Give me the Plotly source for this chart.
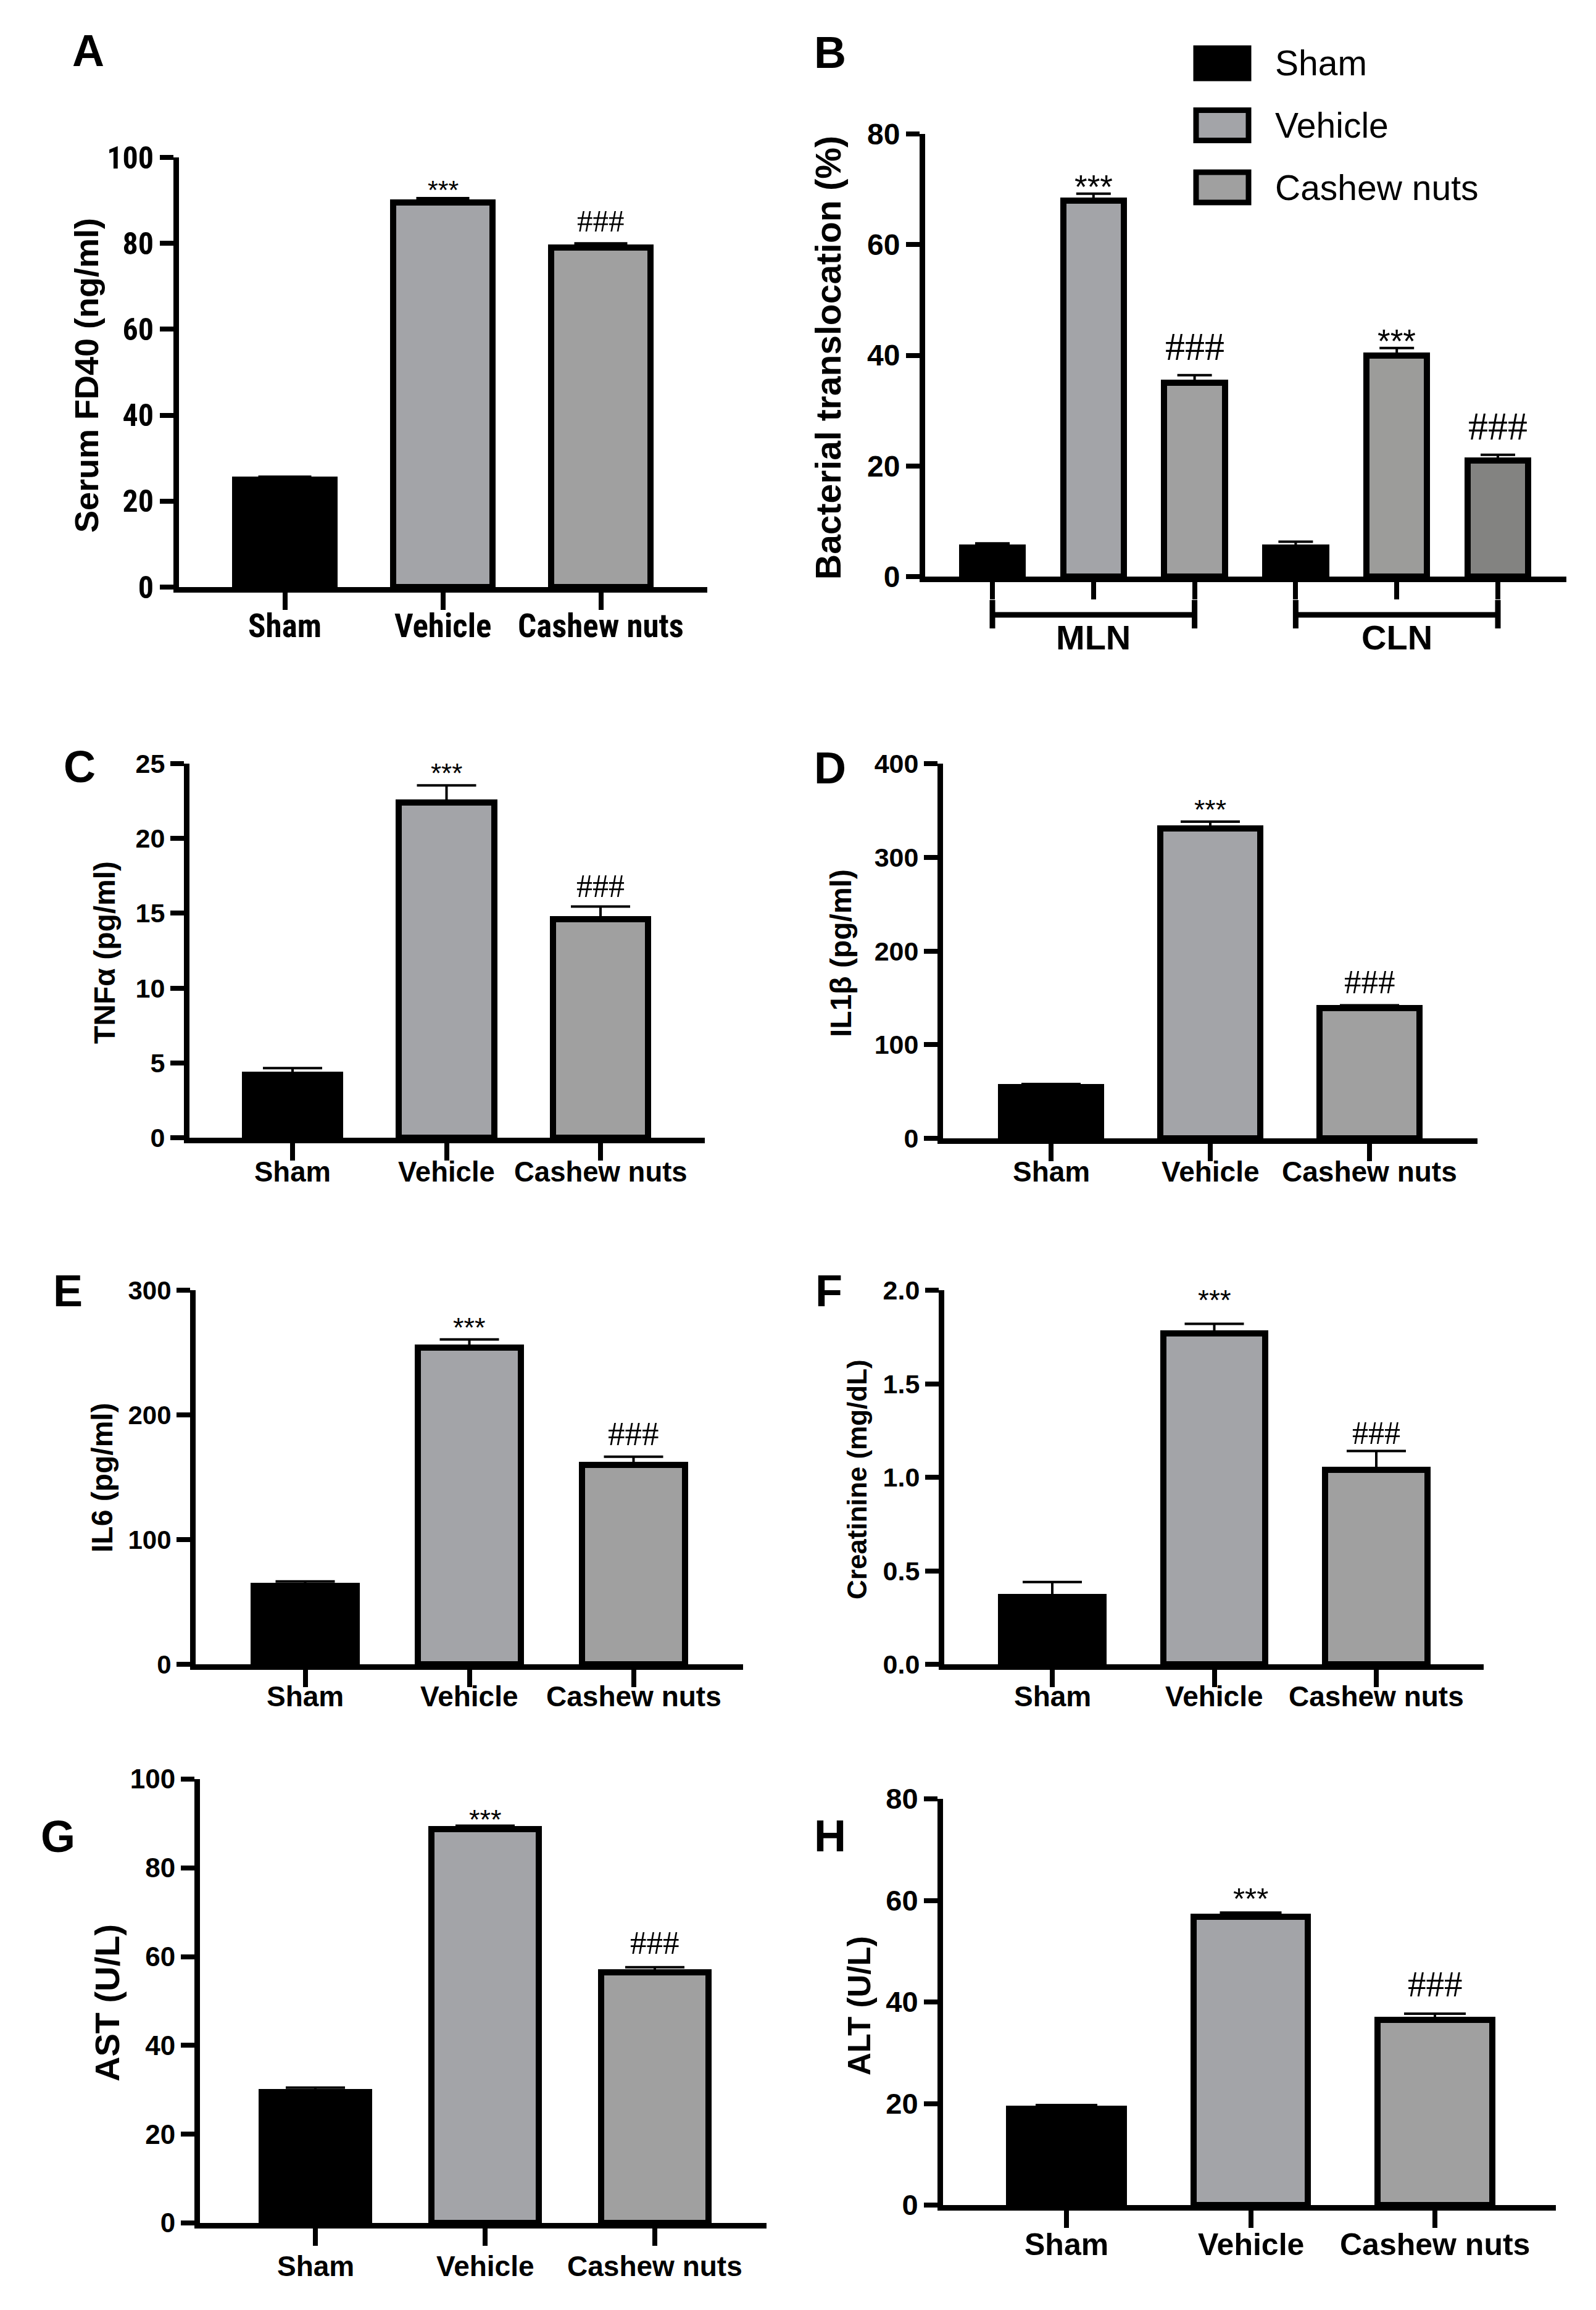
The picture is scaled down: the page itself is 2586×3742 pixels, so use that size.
import plotly.graph_objects as go

W, H = 2586, 3742

# ---------------- data ----------------
groups = ["Sham", "Vehicle", "Cashew nuts"]
nodes = ["MLN", "CLN"]
sig = ["", "***", "###"]

fd40 = [25.0, 89.5, 79.0]
fd40_err = [0.7, 1.0, 1.0]
bt_mln = [5.3, 68.0, 35.0]
bt_mln_err = [0.7, 1.2, 1.4]
bt_cln = [5.2, 40.0, 21.0]
bt_cln_err = [1.1, 1.3, 1.0]
tnf = [4.2, 22.4, 14.6]
tnf_err = [0.45, 1.15, 0.85]
il1b = [55.0, 331.0, 139.0]
il1b_err = [3.0, 7.0, 3.0]
il6 = [63.0, 254.0, 160.0]
il6_err = [3.5, 6.5, 6.5]
creat = [0.36, 1.77, 1.04]
creat_err = [0.08, 0.05, 0.10]
ast = [29.5, 88.8, 56.5]
ast_err = [1.0, 0.7, 1.1]
alt = [19.0, 56.8, 36.5]
alt_err = [0.7, 0.8, 1.2]

# ---------------- styles ----------------
BLACK = "#000000"
VEH = "#a3a4a8"
CASH = "#a0a0a0"
CASH_DARK = "#838381"
fill_colors = [BLACK, VEH, CASH]
cln_fill = [BLACK, "#9c9c9a", CASH_DARK]

SANS = "Liberation Sans, Arial, sans-serif"
NARROW = "Liberation Sans Narrow, Arial Narrow, Roboto Condensed, Liberation Sans, sans-serif"
SERIF = "Liberation Serif, Times New Roman, serif"


def px_x(px):
    return px / W


def px_y(py):
    return 1 - py / H


fig = go.Figure()
annotations = []
shapes = []
layout = dict(
    width=W, height=H, autosize=False,
    margin=dict(l=0, r=0, t=0, b=0, pad=0),
    paper_bgcolor="white", plot_bgcolor="white",
    showlegend=False, bargap=0,
)


def axis_base():
    return dict(showline=True, linecolor="black", linewidth=9,
                ticks="outside", tickcolor="black", tickwidth=8,
                showgrid=False, zeroline=False, automargin=False,
                fixedrange=True)


def sig_style(s, star, hsh):
    """star/hsh = (font size, gap in px between error cap and glyph bottom)"""
    if s.startswith("*"):
        size, gap = star
        return dict(family=SANS, size=size, color="black"), gap - 0.642 * size - 1
    size, gap = hsh
    return dict(family=SERIF, size=size, color="black"), gap - 0.212 * size - 1


def add_sig(k, xs, vals, errs, star, hsh):
    for i, s in enumerate(sig):
        if not s:
            continue
        fnt, ysh = sig_style(s, star, hsh)
        annotations.append(dict(
            x=xs[i], y=vals[i] + errs[i], xref=f"x{k}", yref=f"y{k}",
            text=s, showarrow=False, font=fnt,
            xanchor="center", yanchor="bottom", yshift=ysh))


# simple 3-bar panels
panels = [
    dict(k=1, letter="A", vals=fd40, err=fd40_err, title="Serum FD40 (ng/ml)",
         ymax=100, dtick=20, fmt="", left=282, right=1138, cat0=453.5, sp=256,
         y0=943, ytop=247, lab_y=1006, let_pos=(135, 74), ttl_pos=(132, 600), tsize=54,
         bw=0.63, ew=43, tickfam=NARROW, ticksize=50, catfam=NARROW, catsize=53,
         star=(43, 16.5), hsh=(51, 18)),
    dict(k=3, letter="C", vals=tnf, err=tnf_err, title="TNFα (pg/ml)",
         ymax=25, dtick=5, fmt="", left=299, right=1134, cat0=466, sp=249.5,
         y0=1835, ytop=1229, lab_y=1890, let_pos=(121, 1234), ttl_pos=(161, 1535), tsize=48,
         bw=0.62, ew=48, tickfam=SANS, ticksize=43, catfam=SANS, catsize=45.5,
         star=(44, 22), hsh=(52, 15)),
    dict(k=4, letter="D", vals=il1b, err=il1b_err, title="IL1β (pg/ml)",
         ymax=400, dtick=100, fmt="", left=1520, right=2386, cat0=1695, sp=258,
         y0=1836, ytop=1229, lab_y=1890, let_pos=(1337, 1236), ttl_pos=(1355, 1536), tsize=48,
         bw=0.625, ew=48, tickfam=SANS, ticksize=43, catfam=SANS, catsize=46,
         star=(44.5, 22.5), hsh=(55, 18)),
    dict(k=5, letter="E", vals=il6, err=il6_err, title="IL6 (pg/ml)",
         ymax=300, dtick=100, fmt="", left=309, right=1196, cat0=486.5, sp=266,
         y0=2688, ytop=2082, lab_y=2740, let_pos=(102, 2083), ttl_pos=(157, 2386), tsize=48,
         bw=0.625, ew=48, tickfam=SANS, ticksize=42, catfam=SANS, catsize=46,
         star=(45, 22), hsh=(55, 17)),
    dict(k=6, letter="F", vals=creat, err=creat_err, title="Creatinine (mg/dL)",
         ymax=2.0, dtick=0.5, fmt=".1f", left=1522, right=2396, cat0=1697, sp=262.5,
         y0=2688, ytop=2082, lab_y=2740, let_pos=(1335, 2083), ttl_pos=(1380, 2388), tsize=44,
         bw=0.63, ew=48, tickfam=SANS, ticksize=43, catfam=SANS, catsize=46,
         star=(46, 41), hsh=(52, 11)),
    dict(k=7, letter="G", vals=ast, err=ast_err, title="AST (U/L)",
         ymax=100, dtick=20, fmt="", left=316, right=1234, cat0=503, sp=275,
         y0=3593, ytop=2874, lab_y=3663, let_pos=(86, 2967), ttl_pos=(165, 3237), tsize=56,
         bw=0.63, ew=48, tickfam=SANS, ticksize=44, catfam=SANS, catsize=46,
         star=(45, 12), hsh=(53, 21)),
    dict(k=8, letter="H", vals=alt, err=alt_err, title="ALT (U/L)",
         ymax=80, dtick=20, fmt="", left=1520, right=2513, cat0=1720, sp=298.5,
         y0=3564, ytop=2906, lab_y=3628, let_pos=(1337, 2966), ttl_pos=(1384, 3241), tsize=51,
         bw=0.623, ew=50, tickfam=SANS, ticksize=47, catfam=SANS, catsize=50,
         star=(49, 27), hsh=(59, 26)),
]

for p in panels:
    k = p["k"]
    fig.add_trace(go.Bar(
        x=groups, y=p["vals"], xaxis=f"x{k}", yaxis=f"y{k}",
        width=p["bw"],
        marker=dict(color=fill_colors, line=dict(color="black", width=10)),
        error_y=dict(type="data", symmetric=False, array=p["err"],
                     arrayminus=[0] * len(p["err"]), color="black",
                     thickness=4, width=p["ew"]),
        cliponaxis=False,
    ))
    xa = axis_base()
    xa.update(domain=[px_x(p["left"]), px_x(p["right"])],
              range=[(p["left"] - p["cat0"]) / p["sp"], (p["right"] - p["cat0"]) / p["sp"]],
              type="category", ticklen=28, anchor=f"y{k}", showticklabels=False)
    ya = axis_base()
    ya.update(domain=[px_y(p["y0"]), px_y(p["ytop"])], range=[0, p["ymax"]],
              tick0=0, dtick=p["dtick"], ticklen=22, anchor=f"x{k}",
              tickformat=p["fmt"],
              tickfont=dict(family=p["tickfam"], size=p["ticksize"], color="black", weight="bold"))
    layout[f"xaxis{k}"] = xa
    layout[f"yaxis{k}"] = ya
    add_sig(k, groups, p["vals"], p["err"], p["star"], p["hsh"])
    for g in groups:
        annotations.append(dict(
            x=g, y=px_y(p["lab_y"]), xref=f"x{k}", yref="paper", text=g, showarrow=False,
            font=dict(family=p["catfam"], size=p["catsize"], color="black", weight="bold"),
            xanchor="center", yanchor="middle"))
    annotations.append(dict(
        x=px_x(p["ttl_pos"][0]), y=px_y(p["ttl_pos"][1]), xref="paper", yref="paper",
        text=p["title"], textangle=-90, showarrow=False,
        font=dict(family=SANS, size=p["tsize"], color="black", weight="bold"),
        xanchor="center", yanchor="middle"))
    annotations.append(dict(
        x=px_x(p["let_pos"][0]), y=px_y(p["let_pos"][1]), xref="paper", yref="paper",
        text=p["letter"], showarrow=False,
        font=dict(family=SANS, size=72, color="black", weight="bold"),
        xanchor="center", yanchor="middle"))

# ---------------- panel B (grouped by lymph node) ----------------
kB = 2
B_left, B_right, B_cat0, B_sp = 1491, 2530, 1600, 163.8
B_y0, B_top = 926, 209
B_star, B_hsh = (53, 14.5), (64, 23)
n_s = len(groups)
node_vals = [bt_mln, bt_cln]
node_errs = [bt_mln_err, bt_cln_err]
node_fills = [fill_colors, cln_fill]
for s, name in enumerate(groups):
    xs = [g * n_s + s for g in range(len(nodes))]
    ys = [node_vals[g][s] for g in range(len(nodes))]
    es = [node_errs[g][s] for g in range(len(nodes))]
    cols = [node_fills[g][s] for g in range(len(nodes))]
    fig.add_trace(go.Bar(
        x=xs, y=ys, xaxis=f"x{kB}", yaxis=f"y{kB}", width=0.6, name=name,
        marker=dict(color=cols, line=dict(color="black", width=10)),
        error_y=dict(type="data", symmetric=False, array=es,
                     arrayminus=[0] * len(es), color="black", thickness=4, width=28),
        cliponaxis=False,
    ))
    if sig[s]:
        fnt, ysh = sig_style(sig[s], B_star, B_hsh)
        for g in range(len(nodes)):
            annotations.append(dict(
                x=xs[g], y=ys[g] + es[g], xref=f"x{kB}", yref=f"y{kB}",
                text=sig[s], showarrow=False, font=fnt,
                xanchor="center", yanchor="bottom", yshift=ysh))

all_pos = [g * n_s + s for g in range(len(nodes)) for s in range(n_s)]
xa = axis_base()
xa.update(domain=[px_x(B_left), px_x(B_right)],
          range=[(B_left - B_cat0) / B_sp, (B_right - B_cat0) / B_sp],
          tickmode="array", tickvals=all_pos, ticktext=[""] * len(all_pos),
          ticklen=28, anchor=f"y{kB}")
ya = axis_base()
ya.update(domain=[px_y(B_y0), px_y(B_top)], range=[0, 80], tick0=0, dtick=20,
          ticklen=22, anchor=f"x{kB}",
          tickfont=dict(family=SANS, size=48, color="black", weight="bold"))
layout[f"xaxis{kB}"] = xa
layout[f"yaxis{kB}"] = ya

# group brackets
br_y, cap_top, cap_bot, lab_y = 988, 964, 1010, 1025
for g, node in enumerate(nodes):
    x0 = g * n_s
    x1 = g * n_s + n_s - 1
    shapes.append(dict(type="line", xref=f"x{kB}", yref="paper", x0=x0, x1=x1,
                       y0=px_y(br_y), y1=px_y(br_y), line=dict(color="black", width=9)))
    for xe in (x0, x1):
        shapes.append(dict(type="line", xref=f"x{kB}", yref="paper", x0=xe, x1=xe,
                           y0=px_y(cap_top), y1=px_y(cap_bot),
                           line=dict(color="black", width=9)))
    annotations.append(dict(x=(x0 + x1) / 2, y=px_y(lab_y), xref=f"x{kB}", yref="paper",
                            text=node, showarrow=False,
                            font=dict(family=SANS, size=56, color="black", weight="bold"),
                            xanchor="center", yanchor="middle"))

# legend (drawn)
leg_x0, leg_x1, leg_h, leg_y0, leg_step, leg_tx = 1930, 2015, 49, 70, 100.5, 2056
for s, name in enumerate(groups):
    yt = leg_y0 + s * leg_step
    shapes.append(dict(type="rect", xref="paper", yref="paper",
                       x0=px_x(leg_x0), x1=px_x(leg_x1),
                       y0=px_y(yt + leg_h), y1=px_y(yt),
                       fillcolor=fill_colors[s], line=dict(color="black", width=9)))
    annotations.append(dict(x=px_x(leg_tx), y=px_y(yt + leg_h / 2), xref="paper", yref="paper",
                            text=name, showarrow=False,
                            font=dict(family=SANS, size=57, color="black"),
                            xanchor="left", yanchor="middle"))

annotations.append(dict(x=px_x(1334), y=px_y(572), xref="paper", yref="paper",
                        text="Bacterial translocation (%)", textangle=-90, showarrow=False,
                        font=dict(family=SANS, size=57, color="black", weight="bold"),
                        xanchor="center", yanchor="middle"))
annotations.append(dict(x=px_x(1337), y=px_y(77), xref="paper", yref="paper",
                        text="B", showarrow=False,
                        font=dict(family=SANS, size=72, color="black", weight="bold"),
                        xanchor="center", yanchor="middle"))

layout["annotations"] = annotations
layout["shapes"] = shapes
fig.update_layout(**layout)
fig.write_html("out.html")
